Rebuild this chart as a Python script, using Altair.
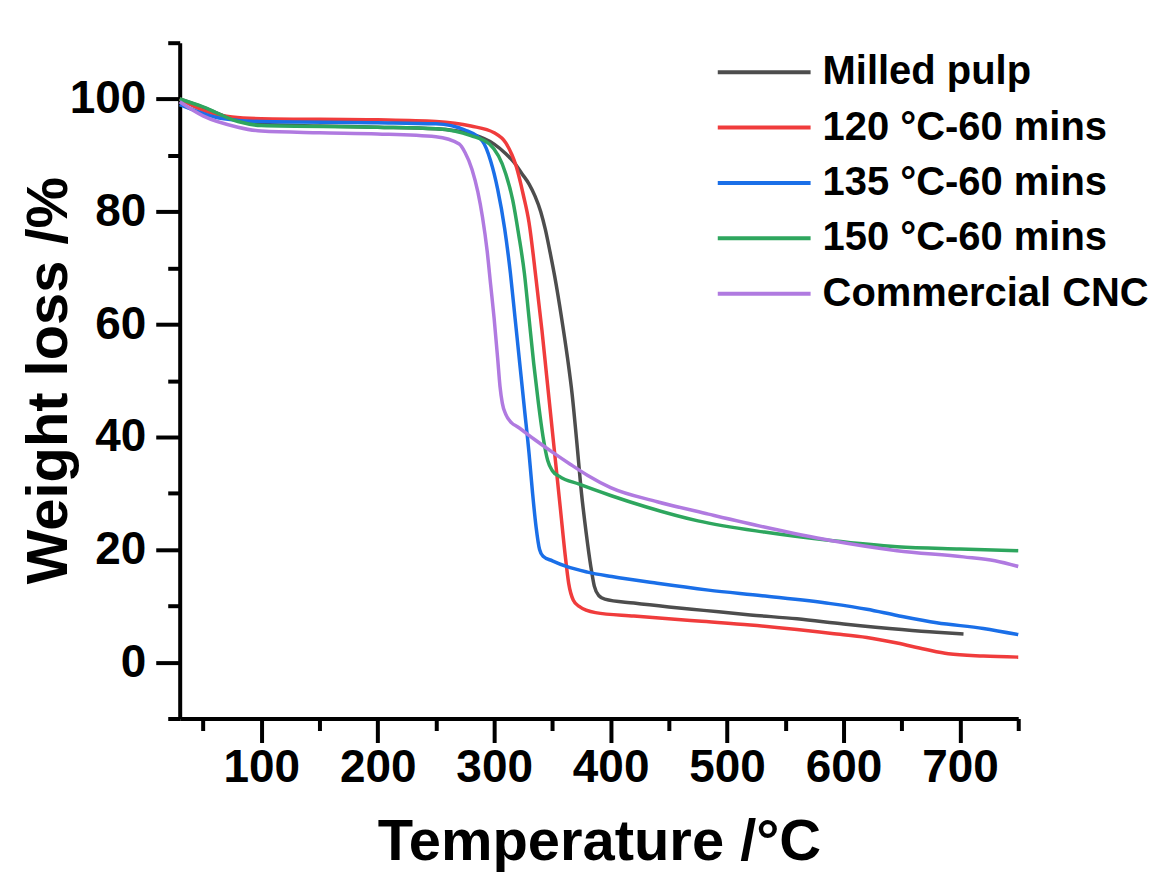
import altair as alt
import pandas as pd

series_names = ["Milled pulp", "120 °C-60 mins", "135 °C-60 mins", "150 °C-60 mins", "Commercial CNC"]
series_colors = ["#4D4D4D", "#F03C3C", "#1A6FE8", "#2EA65E", "#B07AE0"]

milled_T = [30, 50, 75, 100, 150, 200, 250, 280, 300, 310, 318, 324, 330, 335, 340, 344, 348, 352, 358, 363, 367, 371, 375, 379, 383, 386, 390, 395, 420, 450, 480, 520, 560, 600, 650, 680, 703]
milled_W = [100, 98.5, 96.5, 95.5, 95.2, 95, 94.7, 93.8, 92, 90.3, 88.5, 86.7, 84.9, 82.8, 80, 76.8, 72.8, 68.5, 61, 54, 47.5, 39, 30, 23, 17, 13.5, 11.8, 11.2, 10.5, 9.8, 9.2, 8.4, 7.7, 6.8, 5.8, 5.3, 5.0]

t120_T = [30, 50, 75, 100, 200, 250, 280, 300, 310, 319, 325, 330, 336, 341, 345, 349, 353, 357, 361, 364, 368, 373, 387, 420, 475, 520, 560, 590, 620, 646, 670, 690, 720, 750]
t120_W = [100, 98, 96.8, 96.5, 96.3, 96, 95.2, 94, 92.2, 88, 83, 78, 68, 59, 51, 43, 35, 27, 19, 14, 11, 9.9, 8.8, 8.2, 7.3, 6.6, 5.8, 5.1, 4.4, 3.4, 2.3, 1.5, 1.1, 0.9]

t135_T = [30, 45, 60, 80, 100, 200, 250, 275, 290, 297, 303, 309, 314, 318, 322, 326, 330, 333, 336, 339, 342, 350, 362, 380, 401, 440, 484, 530, 589, 620, 646, 680, 720, 750]
t135_W = [99, 97.8, 96.8, 96.2, 96, 95.8, 95.6, 94.5, 92.5, 89, 84, 77, 69, 61, 53, 45, 37, 30, 24, 20, 18.8, 18, 17, 16, 15.2, 14, 12.8, 11.8, 10.4, 9.4, 8.3, 7, 6, 4.9]

t150_T = [30, 50, 80, 100, 200, 250, 280, 296, 310, 316, 321, 326, 330, 334, 338, 342, 346, 350, 356, 373, 400, 430, 475, 532, 589, 646, 700, 750]
t150_W = [100, 98.6, 96, 95.3, 95, 94.7, 93.5, 92, 86.7, 82, 76, 69, 61, 53, 46, 40, 35.8, 34, 33, 31.6, 29.6, 27.6, 25.1, 23.1, 21.6, 20.5, 20.1, 19.8]

cnc_T = [30, 50, 80, 100, 150, 200, 250, 270, 275, 281, 286, 290, 294, 297, 300, 303, 305, 307, 310, 315, 320, 335, 350, 365, 380, 400, 440, 484, 532, 589, 646, 703, 730, 750]
cnc_W = [99.5, 97, 95, 94.3, 94, 93.8, 93.3, 92, 90.5, 87.5, 83.5, 79, 73, 67, 61, 54, 49, 46, 44, 42.5, 41.8, 39.5, 37.3, 35.2, 33.2, 31, 28.5, 26.3, 24, 21.6, 19.8, 18.7, 18, 17]

all_T = [milled_T, t120_T, t135_T, t150_T, cnc_T]
all_W = [milled_W, t120_W, t135_W, t150_W, cnc_W]

rows = []
for name, Ts, Ws in zip(series_names, all_T, all_W):
    for i, (t, w) in enumerate(zip(Ts, Ws)):
        rows.append({"series": name, "T": t, "W": w, "order": i})
df = pd.DataFrame(rows)

x_major = [100, 200, 300, 400, 500, 600, 700]
x_minor = [50, 150, 250, 350, 450, 550, 650, 750]
y_major = [0, 20, 40, 60, 80, 100]
y_minor = [-10, 10, 30, 50, 70, 90, 110]

FONT = "Liberation Sans"
xscale = alt.Scale(domain=[30, 750], nice=False, zero=False)
yscale = alt.Scale(domain=[-10, 110], nice=False, zero=False)

common_axis = dict(domainColor="black", domainWidth=4, tickColor="black", tickWidth=4,
                   grid=False, labelFont=FONT, labelFontSize=46, labelFontWeight="bold",
                   labelColor="black", titleFont=FONT, titleFontSize=58, titleFontWeight="bold",
                   titleColor="black")

lines = alt.Chart(df).mark_line(strokeWidth=3.5, interpolate="monotone").encode(
    x=alt.X("T:Q", scale=xscale,
            axis=alt.Axis(values=x_major, tickSize=24, labelPadding=3, orient="bottom",
                          title="Temperature /°C", titlePadding=23, **common_axis)),
    y=alt.Y("W:Q", scale=yscale,
            axis=alt.Axis(values=y_major, tickSize=24, labelPadding=10, orient="left",
                          title="Weight loss /%", titleX=-101, titleY=338, **common_axis)),
    color=alt.Color("series:N", sort=series_names,
                    scale=alt.Scale(domain=series_names, range=series_colors),
                    legend=alt.Legend(title=None, orient="none", legendX=560, legendY=4,
                                      symbolType="M-2,0H2", symbolSize=2162, symbolStrokeWidth=4,
                                      labelFont=FONT, labelFontSize=40, labelFontWeight="bold",
                                      labelColor="black", labelLimit=600, labelOffset=33,
                                      rowPadding=9.5)),
    detail="series:N",
    order="order:Q",
)

minor = alt.Chart(df).mark_line(strokeOpacity=0).encode(
    x=alt.X("T:Q", scale=xscale,
            axis=alt.Axis(values=x_minor, tickSize=12, labels=False, domain=False, orient="bottom",
                          title=None, tickColor="black", tickWidth=4, grid=False)),
    y=alt.Y("W:Q", scale=yscale,
            axis=alt.Axis(values=y_minor, tickSize=12, labels=False, domain=False, orient="left",
                          title=None, tickColor="black", tickWidth=4, grid=False)),
    detail="series:N",
)

chart = alt.layer(lines, minor).resolve_axis(x="independent", y="independent").properties(
    width=840, height=677,
    autosize=alt.AutoSizeParams(type="none"),
    padding={"left": 172, "top": 34, "right": 135, "bottom": 156},
    background="white",
).configure_view(stroke=None)

chart.save("out.html", embed_options={"renderer": "svg", "actions": False})
